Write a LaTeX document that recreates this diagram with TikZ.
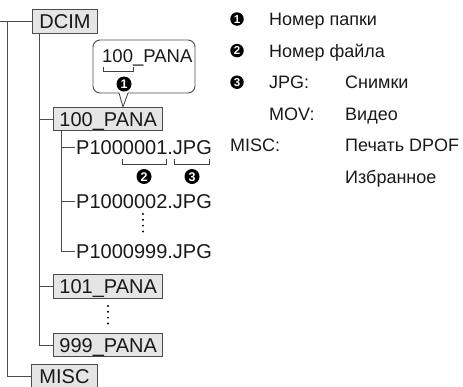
\documentclass[tikz,border=0pt]{standalone}
\usepackage{fontspec}
\setmainfont{Liberation Sans}
\usetikzlibrary{positioning}

\tikzset{
  folder/.style={draw=black!70, fill=black!10, line width=0.9pt, anchor=west,
    font=\fontsize{20}{24}\selectfont, text height=14.3pt, text depth=0pt,
    inner xsep=6pt, inner ysep=4.6pt},
  fname/.style={anchor=west, inner sep=1pt,
    font=\fontsize{20}{24}\selectfont, text height=14.3pt, text depth=0pt},
  lbl/.style={anchor=west, inner sep=0pt,
    font=\fontsize{18}{20}\selectfont, text height=12.9pt, text depth=0pt},
  num/.style={circle, fill=black, text=white, inner sep=0pt, minimum size=15pt,
    font=\fontsize{12.5}{13}\selectfont\bfseries, text height=9pt, text depth=0pt},
  rnum/.style={num, minimum size=13.5pt, font=\fontsize{11.5}{12}\selectfont\bfseries,
    text height=8.2pt},
  tree/.style={draw=black!70, line width=0.9pt},
  brk/.style={draw=black!75, line width=0.8pt},
  dots/.style={line width=2.2pt, line cap=round, dash pattern=on 0pt off 5.8pt}
}

\begin{document}
\begin{tikzpicture}[x=1pt, y=-1pt, text=black!90]
  \clip (0,0) rectangle (463,386);

  % Folder boxes.
  \node[folder, minimum width=65pt] (dcim) at (32,21.5) {DCIM};
  \node[folder] (pana100) at (53,119) {100\_PANA};
  \node[folder] (pana101) at (53,286.5) {101\_PANA};
  \node[folder] (pana999) at (53,345) {999\_PANA};
  \node[folder, minimum width=66pt] (misc) at (31,376) {MISC};

  % Files inside 100_PANA.
  \node[fname] (f1) at (75,147.5) {P1000001.JPG};
  \node[fname] (f2) at (75,201) {P1000002.JPG};
  \node[fname] (f999) at (75,251) {P1000999.JPG};

  % Tree lines.
  \coordinate (root) at (0,21.5);
  \draw[tree] (root) -- (dcim.west);
  \draw[tree] ([xshift=7pt]root) |- (misc.west);
  \draw[tree] ([xshift=7pt]dcim.south west) |- (pana999.west);
  \draw[tree] ([xshift=7pt]dcim.south west) |- (pana100.west);
  \draw[tree] ([xshift=7pt]dcim.south west) |- (pana101.west);
  \draw[tree] ([xshift=8pt]pana100.south west) |- (f999.west);
  \draw[tree] ([xshift=8pt]pana100.south west) |- (f1.west);
  \draw[tree] ([xshift=8pt]pana100.south west) |- (f2.west);

  % Vertical dots.
  \draw[dots] (143,214) -- (143,231.5);
  \draw[dots] (108,306) -- (108,323.5);

  % Callout over 100_PANA.
  \coordinate (tip) at ([xshift=70pt]pana100.north west);
  \draw[black!70, line width=0.9pt]
    (119,93) [rounded corners=7pt] -- (93,93) -- (93,40) -- (195,40) -- (195,93)
    [sharp corners] -- (128,93) -- (tip) -- cycle;
  \node[lbl, font=\fontsize{18.5}{20}\selectfont] (callout) at (102,56) {100\_PANA};
  \draw[brk] (103,67) -- (103,71) -- (133,71) -- (133,67);
  \node[num] (n1) at (124,84) {1};

  % Brackets under the file name.
  \draw[brk] (122,159) -- (122,164) -- (166,164) -- (166,159);
  \draw[brk] (174,159) -- (174,164) -- (209,164) -- (209,159);
  \node[num] (n2) at (144,176.5) {2};
  \node[num] (n3) at (192,176.5) {3};

  % Legend.
  \node[rnum] (k1) at (237,19) {1};
  \node[rnum] (k2) at (237,50.6) {2};
  \node[rnum] (k3) at (237,82.2) {3};
  \node[lbl] (t1) at (269,19) {Номер папки};
  \node[lbl] (t2) at (269,50.6) {Номер файла};
  \node[lbl] (jpg) at (269,82.2) {JPG:};
  \node[lbl] (jpgv) at (345,82.2) {Снимки};
  \node[lbl] (mov) at (269,113.8) {MOV:};
  \node[lbl] (movv) at (345,113.8) {Видео};
  \node[lbl] (miscl) at (230,145.4) {MISC:};
  \node[lbl] (miscv) at (345,145.4) {Печать DPOF};
  \node[lbl] (fav) at (345,177) {Избранное};

\end{tikzpicture}
\end{document}
